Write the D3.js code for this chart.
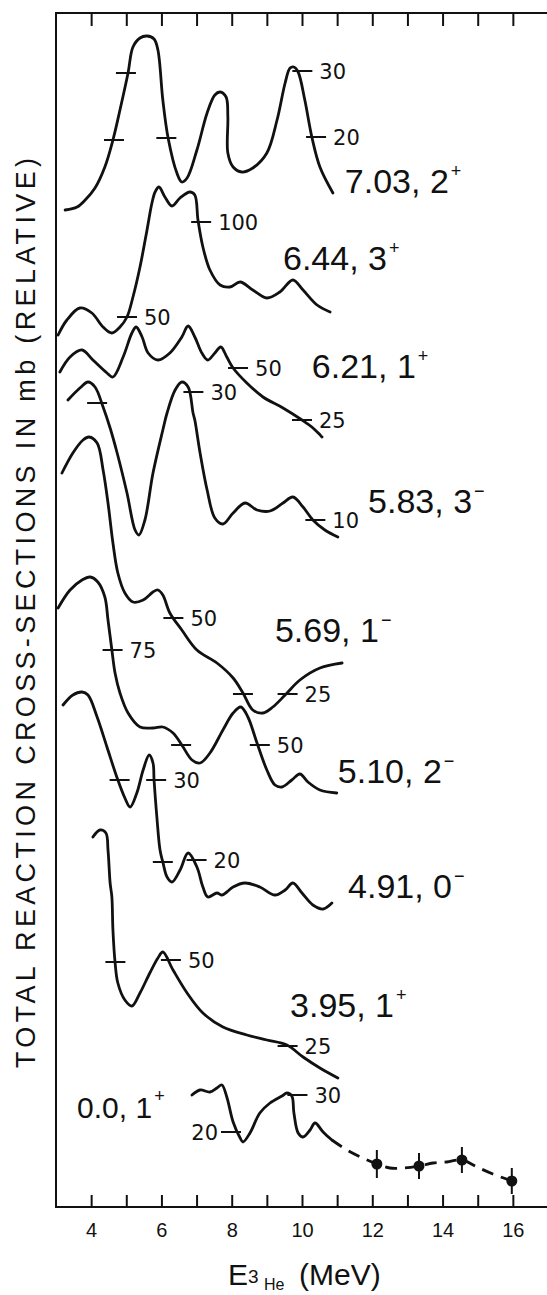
<!DOCTYPE html>
<html>
<head>
<meta charset="utf-8">
<script src="https://cdn.jsdelivr.net/npm/d3@7"></script>
<style>
  body { margin: 0; background: #fff; }
  svg { display: block; }
  .curve { fill: none; stroke: #111; stroke-width: 2.8; stroke-linejoin: round; stroke-linecap: round; }
  .dash { fill: none; stroke: #111; stroke-width: 2.8; stroke-dasharray: 12,8; }
  .mark { stroke: #111; stroke-width: 2; }
  .frame { fill: none; stroke: #111; stroke-width: 2; }
  text { font-family: "Liberation Sans", Arial, sans-serif; fill: #111; }
  .val { font-family: "DejaVu Sans", sans-serif; }
</style>
</head>
<body>
<svg id="chart" width="547" height="1295"></svg>
<script>
// E(3He) in MeV, cross-section in relative units (curves are stacked with offsets)

var e703 = [[3.26,99.7],[3.60,100.0],[3.83,100.7],[4.11,101.9],[4.39,104.0],[4.62,106.7],[4.82,109.7],[5.05,113.4],[5.19,116.0],[5.39,116.9],[5.59,117.1],[5.79,116.8],[5.90,115.7],[6.04,110.7],[6.19,106.9],[6.44,103.4],[6.58,102.5],[6.73,102.9],[7.01,105.7],[7.30,109.4],[7.52,111.2],[7.67,111.5],[7.84,111.0],[7.89,109.0],[7.89,105.4],[8.04,104.0],[8.29,103.5],[8.60,103.9],[9.00,105.4],[9.29,108.7],[9.52,112.4],[9.66,113.9],[9.77,114.0],[9.89,113.5],[10.08,110.7],[10.28,107.0],[10.51,104.0],[10.88,101.4]];
var ticks703 = [[4.65,106.7,""],[4.99,113.4,""],[6.14,106.9,""],[10.01,113.6,"30"],[10.40,107.0,"20"]];

var e644 = [[3.06,87.2],[3.31,88.7],[3.68,89.9],[4.02,89.4],[4.34,88.0],[4.59,87.4],[4.82,88.0],[5.02,89.0],[5.19,91.0],[5.39,94.0],[5.59,97.7],[5.73,100.4],[5.82,101.5],[5.93,102.0],[6.10,101.0],[6.30,100.1],[6.53,100.9],[6.81,101.5],[6.95,101.2],[7.04,98.7],[7.18,96.0],[7.38,93.7],[7.67,92.2],[7.95,92.0],[8.24,92.5],[8.60,91.7],[9.00,90.9],[9.37,91.5],[9.74,92.7],[10.03,91.7],[10.43,90.2],[10.80,89.5]];
var ticks644 = [[5.02,89.0,"50"],[7.13,98.5,"100"]];

var e621 = [[3.11,83.5],[3.40,85.0],[3.74,85.7],[4.05,84.7],[4.45,83.4],[4.62,83.0],[4.91,85.0],[5.16,87.4],[5.28,88.0],[5.45,87.0],[5.62,85.4],[5.90,84.7],[6.24,85.4],[6.58,87.0],[6.76,88.1],[6.95,87.0],[7.15,85.4],[7.32,84.7],[7.52,85.4],[7.69,86.0],[7.86,85.0],[8.04,83.9],[8.43,82.4],[8.89,81.0],[9.46,79.9],[10.00,78.7],[10.28,78.0],[10.57,77.0]];
var ticks621 = [[8.18,83.9,"50"],[10.00,78.7,"25"]];

var e583 = [[3.34,80.7],[3.68,81.9],[3.91,82.5],[4.11,82.0],[4.34,80.0],[4.54,77.9],[4.74,75.4],[5.02,71.4],[5.25,67.7],[5.36,67.2],[5.53,68.7],[5.76,73.4],[6.04,77.7],[6.16,79.4],[6.39,81.7],[6.58,82.5],[6.76,82.0],[6.90,79.4],[6.95,78.7],[7.10,75.4],[7.30,71.7],[7.52,68.9],[7.75,68.3],[8.04,69.4],[8.38,70.4],[8.72,69.7],[9.09,69.6],[9.46,70.4],[9.74,71.0],[10.03,70.0],[10.31,68.7],[10.65,67.7],[11.02,67.0]];
var ticks583 = [[4.17,80.4,""],[6.91,81.5,"30"],[10.38,68.7,"10"]];

var e569 = [[3.17,73.4],[3.48,75.4],[3.77,76.7],[3.94,77.0],[4.17,76.4],[4.34,73.7],[4.48,70.4],[4.62,66.4],[4.76,63.4],[4.96,61.4],[5.19,60.5],[5.48,60.7],[5.76,61.5],[5.90,61.7],[6.04,61.2],[6.24,59.4],[6.58,57.7],[7.01,55.7],[7.58,54.4],[8.04,52.9],[8.32,51.4],[8.60,49.7],[8.89,49.4],[9.17,50.0],[9.52,51.2],[9.94,52.7],[10.51,53.9],[11.14,54.4]];
var ticks569 = [[6.34,58.9,"50"],[8.32,51.3,""],[9.59,51.3,"25"]];

var e510 = [[3.06,59.9],[3.40,61.7],[3.74,62.7],[3.97,63.0],[4.19,62.5],[4.39,61.0],[4.48,58.7],[4.59,55.7],[4.68,53.4],[4.82,51.4],[5.05,49.4],[5.39,48.0],[5.76,47.9],[6.04,48.0],[6.33,47.4],[6.58,46.2],[6.87,44.7],[7.10,44.4],[7.38,45.4],[7.75,47.7],[8.04,49.4],[8.26,50.0],[8.46,49.0],[8.72,46.4],[9.00,43.7],[9.23,42.2],[9.43,42.0],[9.71,42.7],[9.94,43.3],[10.17,42.5],[10.51,41.7],[10.99,41.4]];
var ticks510 = [[4.61,55.7,"75"],[6.56,46.2,""],[8.80,46.2,"50"]];

var e491 = [[3.20,50.2],[3.48,51.2],[3.74,51.5],[3.91,51.2],[4.17,49.0],[4.45,46.0],[4.74,42.9],[4.96,40.9],[5.11,40.0],[5.30,41.4],[5.48,43.7],[5.65,45.2],[5.76,44.4],[5.79,42.7],[5.87,39.0],[5.96,35.7],[6.04,34.5],[6.16,33.0],[6.30,32.5],[6.53,33.7],[6.76,35.4],[7.01,34.0],[7.18,32.0],[7.32,31.0],[7.58,31.4],[7.72,31.2],[7.86,31.5],[8.04,32.0],[8.38,32.4],[8.80,32.0],[9.23,31.2],[9.52,31.7],[9.74,32.4],[10.00,31.4],[10.31,30.2],[10.60,29.8],[10.85,30.4]];
var ticks491 = [[4.81,42.7,""],[5.85,42.7,"30"],[6.04,34.5,""],[7.00,34.7,"20"]];

var e395 = [[4.05,37.0],[4.25,37.7],[4.42,37.4],[4.48,35.7],[4.54,32.4],[4.59,31.0],[4.62,27.7],[4.68,24.5],[4.76,22.4],[4.96,20.7],[5.16,20.1],[5.39,21.4],[5.67,23.4],[5.90,24.9],[6.04,25.5],[6.33,23.7],[6.73,21.4],[7.18,19.4],[7.75,18.0],[8.43,17.2],[9.00,16.7],[9.57,16.2],[10.03,15.0],[10.51,13.9],[11.02,12.9]];
var ticks395 = [[4.69,24.5,""],[6.27,24.7,"50"],[9.59,16.1,"25"]];

var e000 = [[6.87,11.2],[7.10,11.7],[7.38,11.5],[7.58,11.9],[7.72,12.2],[7.86,11.0],[8.04,8.5],[8.24,6.9],[8.32,6.5],[8.52,7.4],[8.80,9.4],[9.09,10.4],[9.43,11.1],[9.57,11.4],[9.71,11.1],[9.77,9.4],[9.89,7.4],[10.03,7.0],[10.23,7.7],[10.37,8.4],[10.60,7.5],[10.85,6.7]];
var ticks000 = [[7.98,7.5,"20","left"],[9.87,11.2,"30"]];
var tail000 = [[10.85,6.7],[11.28,5.7],[11.73,4.9],[12.13,4.3],[12.50,3.9],[12.87,3.9],[13.33,4.1],[13.73,4.4],[14.12,4.5],[14.55,4.7],[14.98,4.0],[15.43,3.3],[15.97,2.6]];
var points000 = [[12.13,4.3,1.4],[13.33,4.1,1.3],[14.55,4.7,1.3],[15.97,2.6,1.3]];

// level names: energy, spin + parity
var levels = [["7.03, 2","+"],["6.44, 3","+"],["6.21, 1","+"],["5.83, 3","\u2212"],["5.69, 1","\u2212"],["5.10, 2","\u2212"],["4.91, 0","\u2212"],["3.95, 1","+"],["0.0, 1","+"]];
var xTicks = d3.range(4, 17);

// where the level names sit, in data units
var levelAt = [[11.22,101.4],[9.46,93.7],[10.28,82.9],[11.88,69.4],[9.23,56.5],[11.02,42.4],[11.31,30.9],[9.66,19.0],[3.60,8.9]];

var svg = d3.select("#chart");

var x = d3.scaleLinear().domain([3, 17]).range([56, 548]);
var y = d3.scaleLinear().domain([0, 119.4]).range([1207, 13]);

var line = d3.line()
    .x(function(d){ return x(d[0]); })
    .y(function(d){ return y(d[1]); })
    .curve(d3.curveCatmullRom.alpha(0.5));

// frame: left, top, bottom (right side falls off the page)
svg.append("path")
    .attr("class", "frame")
    .attr("d", "M" + x(17) + "," + y(119.4) + "H" + x(3) + "V" + y(0) + "H" + x(17));

var bottomAxis = svg.append("g")
    .attr("transform", "translate(0," + y(0) + ")")
    .call(d3.axisBottom(x).tickValues(xTicks).tickSizeInner(-12).tickSizeOuter(0).tickPadding(16)
        .tickFormat(function(d){ return d % 2 === 0 ? d : ""; }));
bottomAxis.select(".domain").remove();
bottomAxis.selectAll("line").attr("stroke", "#111").attr("stroke-width", 2);
bottomAxis.selectAll("text").attr("font-size", 20).attr("font-family", "Liberation Sans, Arial, sans-serif").attr("fill", "#111");

var topAxis = svg.append("g")
    .attr("transform", "translate(0," + y(119.4) + ")")
    .call(d3.axisTop(x).tickValues(xTicks).tickSizeInner(-13).tickSizeOuter(0).tickFormat(""));
topAxis.select(".domain").remove();
topAxis.selectAll("line").attr("stroke", "#111").attr("stroke-width", 2);

var curves = [e703, e644, e621, e583, e569, e510, e491, e395, e000];
var marks = [ticks703, ticks644, ticks621, ticks583, ticks569, ticks510, ticks491, ticks395, ticks000];

svg.append("g").selectAll("path")
    .data(curves)
    .enter().append("path")
    .attr("class", "curve")
    .attr("d", line);

svg.append("path")
    .attr("class", "dash")
    .attr("d", line(tail000));

var pts = svg.append("g").selectAll("g")
    .data(points000)
    .enter().append("g");
pts.append("line")
    .attr("class", "mark")
    .attr("x1", function(d){ return x(d[0]); })
    .attr("x2", function(d){ return x(d[0]); })
    .attr("y1", function(d){ return y(d[1] + d[2]); })
    .attr("y2", function(d){ return y(d[1] - d[2]); });
pts.append("circle")
    .attr("cx", function(d){ return x(d[0]); })
    .attr("cy", function(d){ return y(d[1]); })
    .attr("r", 5.5)
    .attr("fill", "#111");

// little cross-bars with their mb values
var allMarks = d3.merge(marks);
var mg = svg.append("g").selectAll("g")
    .data(allMarks)
    .enter().append("g")
    .attr("transform", function(d){ return "translate(" + x(d[0]) + "," + y(d[1]) + ")"; });
mg.append("line")
    .attr("class", "mark")
    .attr("x1", -10).attr("x2", 10);
mg.append("text")
    .attr("class", "val")
    .attr("x", function(d){ return d[3] === "left" ? -13 : 17; })
    .attr("dy", "0.36em")
    .attr("font-size", 21)
    .attr("text-anchor", function(d){ return d[3] === "left" ? "end" : "start"; })
    .text(function(d){ return d[2]; });

// level names
var lt = svg.append("g").selectAll("text")
    .data(levels)
    .enter().append("text")
    .attr("x", function(d, i){ return x(levelAt[i][0]); })
    .attr("y", function(d, i){ return y(levelAt[i][1]); })
    .attr("font-size", function(d, i){ return i === 8 ? 30 : 34; });
lt.append("tspan").text(function(d){ return d[0]; });
lt.append("tspan")
    .attr("dx", 2)
    .attr("dy", -16)
    .attr("font-size", 18)
    .text(function(d){ return d[1]; });

// axis titles
svg.append("text")
    .attr("transform", "translate(35,1068) rotate(-90)")
    .attr("font-size", 27)
    .attr("textLength", 910)
    .attr("lengthAdjust", "spacing")
    .text("TOTAL REACTION CROSS-SECTIONS IN mb (RELATIVE)");

var xt = svg.append("text").attr("y", 1285);
xt.append("tspan").attr("x", 228).attr("font-size", 30).text("E");
xt.append("tspan").attr("x", 248).attr("y", 1283).attr("font-size", 19).text("3");
xt.append("tspan").attr("x", 264).attr("y", 1290).attr("font-size", 16).text("He");
xt.append("tspan").attr("x", 299).attr("y", 1285).attr("font-size", 30).text("(MeV)");
</script>
</body>
</html>
